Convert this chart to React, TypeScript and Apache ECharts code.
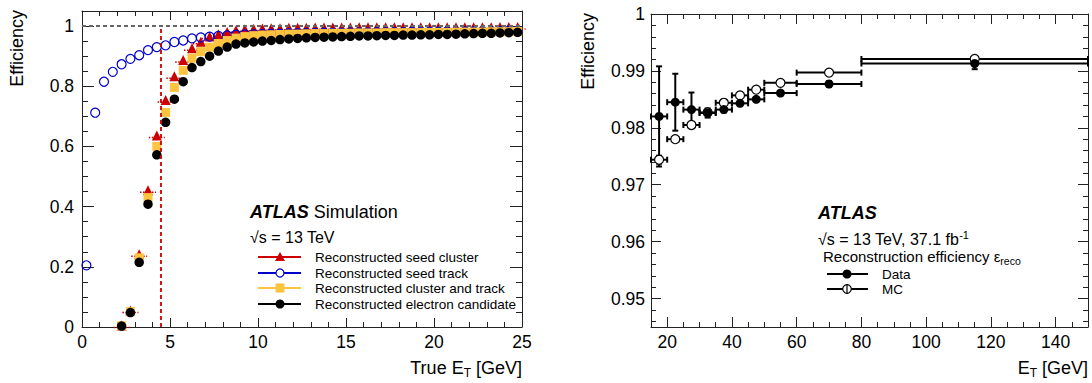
import React, { useEffect, useRef } from "react";
import * as echarts from "echarts";

const FONT = "'Liberation Sans', Arial, Helvetica, sans-serif";

// ---------------- Left panel: efficiency vs true E_T (simulation) ----------------
const trueEtBinCenters = [
  0.25, 0.75, 1.25, 1.75, 2.25, 2.75, 3.25, 3.75, 4.25, 4.75,
  5.25, 5.75, 6.25, 6.75, 7.25, 7.75, 8.25, 8.75, 9.25, 9.75,
  10.25, 10.75, 11.25, 11.75, 12.25, 12.75, 13.25, 13.75, 14.25, 14.75,
  15.25, 15.75, 16.25, 16.75, 17.25, 17.75, 18.25, 18.75, 19.25, 19.75,
  20.25, 20.75, 21.25, 21.75, 22.25, 22.75, 23.25, 23.75, 24.25, 24.75,
];

const seedClusterEff = [
  null, null, null, null, 0.005, 0.055, 0.242, 0.454, 0.636, 0.754,
  0.833, 0.887, 0.926, 0.948, 0.965, 0.973, 0.98, 0.986, 0.989, 0.991,
  0.992, 0.993, 0.993, 0.994, 0.994, 0.994, 0.995, 0.995, 0.995, 0.995,
  0.995, 0.996, 0.996, 0.996, 0.996, 0.996, 0.996, 0.996, 0.996, 0.996,
  0.996, 0.996, 0.996, 0.996, 0.996, 0.996, 0.996, 0.997, 0.997, 0.997,
];

const seedTrackEff = [
  0.205, 0.712, 0.815, 0.848, 0.873, 0.891, 0.903, 0.92, 0.93, 0.936,
  0.947, 0.952, 0.959, 0.962, 0.965, 0.967, 0.969, 0.971, 0.972, 0.973,
  0.974, 0.975, 0.975, 0.976, 0.976, 0.977, 0.977, 0.978, 0.978, 0.978,
  0.979, 0.979, 0.979, 0.98, 0.98, 0.98, 0.98, 0.981, 0.981, 0.981,
  0.981, 0.982, 0.982, 0.982, 0.982, 0.983, 0.983, 0.983, 0.984, 0.984,
];

const clusterTrackEff = [
  null, null, null, null, 0.004, 0.051, 0.23, 0.43, 0.6, 0.713,
  0.796, 0.853, 0.893, 0.915, 0.93, 0.942, 0.952, 0.96, 0.965, 0.968,
  0.97, 0.971, 0.972, 0.973, 0.973, 0.974, 0.975, 0.975, 0.976, 0.976,
  0.976, 0.977, 0.977, 0.977, 0.978, 0.978, 0.978, 0.978, 0.979, 0.979,
  0.979, 0.979, 0.98, 0.98, 0.98, 0.98, 0.981, 0.981, 0.981, 0.982,
];

const electronCandEff = [
  null, null, null, null, 0.003, 0.048, 0.215, 0.408, 0.572, 0.68,
  0.757, 0.815, 0.862, 0.882, 0.9, 0.917, 0.93, 0.94, 0.944, 0.947,
  0.95, 0.952, 0.955, 0.957, 0.959, 0.961, 0.962, 0.963, 0.964, 0.965,
  0.966, 0.967, 0.967, 0.968, 0.969, 0.969, 0.97, 0.97, 0.971, 0.971,
  0.972, 0.972, 0.973, 0.974, 0.975, 0.976, 0.976, 0.977, 0.978, 0.979,
];

const etThreshold = 4.5;
const unityEff = 1;

const leftXMajor = [0, 5, 10, 15, 20, 25];
const leftYMajor = [0, 0.2, 0.4, 0.6, 0.8, 1];

// ---------------- Right panel: data vs MC reconstruction efficiency ----------------
const etBinLow = [15, 20, 25, 30, 35, 40, 45, 50, 60, 80];
const etBinHigh = [20, 25, 30, 35, 40, 45, 50, 60, 80, 150];
const dataEff = [0.982, 0.9845, 0.9832, 0.9826, 0.9832, 0.9843, 0.985, 0.9861, 0.9877, 0.9913];
const dataErr = [0.0088, 0.005, 0.003, 0.0008, 0.0005, 0.0004, 0.0004, 0.0004, 0.0005, 0.001];
const mcEff = [0.9744, 0.978, 0.9805, 0.9827, 0.9844, 0.9857, 0.9867, 0.9879, 0.9897, 0.9921];
const mcErr = [0.0007, 0.0004, 0.0004, 0.0003, 0.0003, 0.0003, 0.0003, 0.0003, 0.0003, 0.0004];

const rightXMajor = [20, 40, 60, 80, 100, 120, 140];
const rightYMajor = [0.95, 0.96, 0.97, 0.98, 0.99, 1];

// ---------------- helpers ----------------
function steps(from: number, to: number, step: number): number[] {
  const out: number[] = [];
  const n = Math.round((to - from) / step);
  for (let i = 0; i <= n; i++) out.push(Math.round((from + i * step) * 1e6) / 1e6);
  return out;
}

type Pos = "bottom" | "top" | "left" | "right";

function axisPair(
  grid: number, pos: Pos, min: number, max: number,
  major: number[], minor: number[], majorLen: number, minorLen: number,
  labels: boolean, margin: number
) {
  const common: any = {
    type: "value", gridIndex: grid, position: pos, min, max,
    splitLine: { show: false }, minorTick: { show: false }, minorSplitLine: { show: false },
  };
  const tickStyle = { color: "#222", width: 1 };
  const majorAxis = {
    ...common,
    axisLine: { show: true, onZero: false, lineStyle: { color: "#222", width: 1 } },
    axisTick: { show: true, inside: true, length: majorLen, customValues: major, lineStyle: tickStyle },
    axisLabel: {
      show: labels, customValues: major, margin, fontSize: 17.5, fontFamily: FONT, color: "#000",
      formatter: (v: number) => String(parseFloat(Number(v).toFixed(3))),
    },
  };
  const minorAxis = {
    ...common,
    axisLine: { show: false, onZero: false },
    axisTick: { show: true, inside: true, length: minorLen, customValues: minor, lineStyle: tickStyle },
    axisLabel: { show: false },
  };
  return [majorAxis, minorAxis];
}

function pts(xs: number[], ys: (number | null)[]) {
  const out: number[][] = [];
  xs.forEach((x, i) => {
    const y = ys[i];
    if (y !== null && y !== undefined) out.push([x, y]);
  });
  return out;
}

function errorBarRender(params: any, api: any) {
  const xc = api.value(0), y = api.value(1), lo = api.value(2), hi = api.value(3), err = api.value(4);
  const pL = api.coord([lo, y]);
  const pR = api.coord([hi, y]);
  const pT = api.coord([xc, y + err]);
  const pB = api.coord([xc, y - err]);
  const cap = 3;
  const style = { stroke: "#000", lineWidth: 2, fill: "none" };
  const ln = (x1: number, y1: number, x2: number, y2: number) => ({ type: "line", shape: { x1, y1, x2, y2 }, style });
  return {
    type: "group",
    children: [
      ln(pL[0], pL[1], pR[0], pR[1]),
      ln(pL[0], pL[1] - cap, pL[0], pL[1] + cap),
      ln(pR[0], pR[1] - cap, pR[0], pR[1] + cap),
      ln(pT[0], pT[1], pB[0], pB[1]),
      ln(pT[0] - cap, pT[1], pT[0] + cap, pT[1]),
      ln(pB[0] - cap, pB[1], pB[0] + cap, pB[1]),
    ],
  };
}

function dottedRender(params: any, api: any) {
  const p = api.coord([api.value(0), api.value(1)]);
  return {
    type: "line",
    shape: { x1: p[0] - 8, y1: p[1] + 2, x2: p[0] + 8, y2: p[1] + 2 },
    style: { stroke: "#cc0000", lineWidth: 1.5, lineDash: [1.5, 1.5] },
  };
}

const RED = "#cc0000";
const BLUE = "#0000cc";
const YELLOW = "#fec440";

function txt(x: number, y: number, text: string, fontSize: number, align: string, rich?: any, extra?: any) {
  return {
    type: "text", x, y, ...(extra || {}),
    style: {
      text, fill: "#000", fontSize, fontFamily: FONT,
      textAlign: align, align, verticalAlign: "middle", textVerticalAlign: "middle",
      rich,
    },
  };
}

function buildOption() {
  const leftGrid = 0, rightGrid = 1;
  const xAxes = [
    ...axisPair(leftGrid, "bottom", 0, 25, leftXMajor, steps(0, 25, 1), 9, 5, true, 6),
    ...axisPair(leftGrid, "top", 0, 25, leftXMajor, steps(0, 25, 1), 9, 5, false, 6),
    ...axisPair(rightGrid, "bottom", 15, 150, rightXMajor, steps(20, 145, 5), 10, 5, true, 6),
    ...axisPair(rightGrid, "top", 15, 150, rightXMajor, steps(20, 145, 5), 10, 5, false, 6),
  ];
  const yAxes = [
    ...axisPair(leftGrid, "left", 0, 1.05, leftYMajor, steps(0, 1, 0.05), 12, 6, true, 8),
    ...axisPair(leftGrid, "right", 0, 1.05, leftYMajor, steps(0, 1, 0.05), 12, 6, false, 8),
    ...axisPair(rightGrid, "left", 0.945, 1, rightYMajor, steps(0.946, 0.998, 0.002), 10, 5, true, 6),
    ...axisPair(rightGrid, "right", 0.945, 1, rightYMajor, steps(0.946, 0.998, 0.002), 10, 5, false, 6),
  ];

  const L = { xAxisIndex: 0, yAxisIndex: 0 };
  const R = { xAxisIndex: 4, yAxisIndex: 4 };

  const dataRows = etBinLow.map((lo, i) => [(lo + etBinHigh[i]) / 2, dataEff[i], lo, etBinHigh[i], dataErr[i]]);
  const mcRows = etBinLow.map((lo, i) => [(lo + etBinHigh[i]) / 2, mcEff[i], lo, etBinHigh[i], mcErr[i]]);

  const series: any[] = [
    {
      type: "scatter", ...L, data: [], silent: true,
      markLine: {
        silent: true, symbol: "none", label: { show: false }, animation: false,
        data: [
          [
            { coord: [0, unityEff], lineStyle: { color: "#666", type: [4, 3], width: 1.8 } },
            { coord: [25, unityEff] },
          ],
          [
            { coord: [etThreshold, 0], lineStyle: { color: RED, type: [4, 3], width: 1.8 } },
            { coord: [etThreshold, unityEff] },
          ],
        ],
      },
    },
    { type: "custom", ...L, data: pts(trueEtBinCenters, seedClusterEff), renderItem: dottedRender, silent: true },
    {
      type: "scatter", ...L, data: pts(trueEtBinCenters, seedClusterEff), symbol: "triangle", symbolSize: 10,
      itemStyle: { color: RED, opacity: 1 }, silent: true,
    },
    {
      type: "scatter", ...L, data: pts(trueEtBinCenters, seedTrackEff), symbol: "circle", symbolSize: 9,
      itemStyle: { color: "rgba(255,255,255,0)", borderColor: BLUE, borderWidth: 1.2, opacity: 1 }, silent: true,
    },
    {
      type: "scatter", ...L, data: pts(trueEtBinCenters, clusterTrackEff), symbol: "rect", symbolSize: 9,
      itemStyle: { color: YELLOW, opacity: 1 }, silent: true,
    },
    {
      type: "scatter", ...L, data: pts(trueEtBinCenters, electronCandEff), symbol: "circle", symbolSize: 9.5,
      itemStyle: { color: "#000", opacity: 1 }, silent: true,
    },
    // right panel
    { type: "custom", ...R, data: mcRows, renderItem: errorBarRender, silent: true },
    {
      type: "scatter", ...R, data: mcRows.map((r) => [r[0], r[1]]), symbol: "circle", symbolSize: 9,
      itemStyle: { color: "#fff", borderColor: "#000", borderWidth: 1.2, opacity: 1 }, silent: true,
    },
    { type: "custom", ...R, data: dataRows, renderItem: errorBarRender, silent: true },
    {
      type: "scatter", ...R, data: dataRows.map((r) => [r[0], r[1]]), symbol: "circle", symbolSize: 9,
      itemStyle: { color: "#000", opacity: 1 }, silent: true,
    },
  ];

  const subRich = {
    a: { fontSize: 18, fontFamily: FONT, lineHeight: 22, verticalAlign: "middle" },
    sub: { fontSize: 12, fontFamily: FONT, lineHeight: 12, verticalAlign: "bottom" },
  };

  const legendRowsY = [257, 273, 288, 304];
  const legendColors = [RED, BLUE, YELLOW, "#000"];
  const legendLabels = [
    "Reconstructed seed cluster",
    "Reconstructed seed track",
    "Reconstructed cluster and track",
    "Reconstructed electron candidate",
  ];
  const mx = 280;
  const markerShapes = [
    (y: number) => ({ type: "polygon", shape: { points: [[mx, y - 5], [mx - 5, y + 4], [mx + 5, y + 4]] }, style: { fill: RED } }),
    (y: number) => ({ type: "circle", shape: { cx: mx, cy: y, r: 4 }, style: { fill: "#fff", stroke: BLUE, lineWidth: 1.2 } }),
    (y: number) => ({ type: "rect", shape: { x: mx - 4.5, y: y - 4.5, width: 9, height: 9 }, style: { fill: YELLOW } }),
    (y: number) => ({ type: "circle", shape: { cx: mx, cy: y, r: 4.5 }, style: { fill: "#000" } }),
  ];

  const graphic: any[] = [
    // axis titles
    txt(17, 10, "Efficiency", 18, "right", undefined, { rotation: Math.PI / 2 }),
    txt(588, 13, "Efficiency", 18, "right", undefined, { rotation: Math.PI / 2 }),
    txt(522, 368, "{a|True E}{sub|T}{a| [GeV]}", 18, "right", subRich),
    txt(1088, 368, "{a|E}{sub|T}{a| [GeV]}", 18, "right", subRich),
    // left labels
    txt(250, 212, "{b|ATLAS} {n|Simulation}", 18, "left", {
      b: { fontSize: 18, fontFamily: FONT, fontWeight: "bold", fontStyle: "italic" },
      n: { fontSize: 18, fontFamily: FONT },
    }),
    txt(250, 237, "√s = 13 TeV", 16, "left"),
  ];
  legendRowsY.forEach((y, i) => {
    graphic.push({ type: "line", shape: { x1: 258, y1: y, x2: 301, y2: y }, style: { stroke: legendColors[i], lineWidth: 2 } });
    graphic.push(markerShapes[i](y));
    graphic.push(txt(315, y, legendLabels[i], 13.5, "left"));
  });
  // right labels
  const atlasRight: any = txt(818, 213, "ATLAS", 18, "left");
  atlasRight.style.fontWeight = "bold";
  atlasRight.style.fontStyle = "italic";
  graphic.push(
    atlasRight,
    txt(818, 239, "{m|√s = 13 TeV, 37.1 fb}{sup|-1}", 16, "left", {
      m: { fontSize: 16, fontFamily: FONT, lineHeight: 20, verticalAlign: "middle" },
      sup: { fontSize: 11, fontFamily: FONT, lineHeight: 11, verticalAlign: "top" },
    }),
    txt(823, 256, "{m|Reconstruction efficiency ε}{sub|reco}", 15, "left", {
      m: { fontSize: 15, fontFamily: FONT, lineHeight: 20, verticalAlign: "middle" },
      sub: { fontSize: 10.5, fontFamily: FONT, lineHeight: 10, verticalAlign: "bottom" },
    }),
    { type: "line", shape: { x1: 827, y1: 274, x2: 868, y2: 274 }, style: { stroke: "#000", lineWidth: 2 } },
    { type: "line", shape: { x1: 847, y1: 270, x2: 847, y2: 278 }, style: { stroke: "#000", lineWidth: 2 } },
    { type: "circle", shape: { cx: 847, cy: 274, r: 4.5 }, style: { fill: "#000" } },
    txt(882, 274, "Data", 13.5, "left"),
    { type: "line", shape: { x1: 827, y1: 289, x2: 868, y2: 289 }, style: { stroke: "#000", lineWidth: 2 } },
    { type: "circle", shape: { cx: 847, cy: 289, r: 4.3 }, style: { fill: "#fff", stroke: "#000", lineWidth: 1.2 } },
    { type: "line", shape: { x1: 847, y1: 284.5, x2: 847, y2: 293.5 }, style: { stroke: "#000", lineWidth: 1.2 } },
    txt(882, 289, "MC", 13.5, "left"),
  );

  return {
    animation: false,
    backgroundColor: "#fff",
    textStyle: { fontFamily: FONT },
    grid: [
      { left: 82, top: 11, width: 440, height: 316, outerBoundsMode: "none", containLabel: false },
      { left: 651, top: 14, width: 437, height: 313, outerBoundsMode: "none", containLabel: false },
    ],
    xAxis: xAxes,
    yAxis: yAxes,
    series,
    graphic,
  };
}

export default function App() {
  const ref = useRef<HTMLDivElement>(null);
  useEffect(() => {
    document.body.style.margin = "0";
    if (!ref.current) return;
    const chart = echarts.init(ref.current, undefined, { renderer: "svg" });
    chart.setOption(buildOption() as any);
    return () => chart.dispose();
  }, []);
  return <div ref={ref} style={{ width: 1092, height: 383 }} />;
}
